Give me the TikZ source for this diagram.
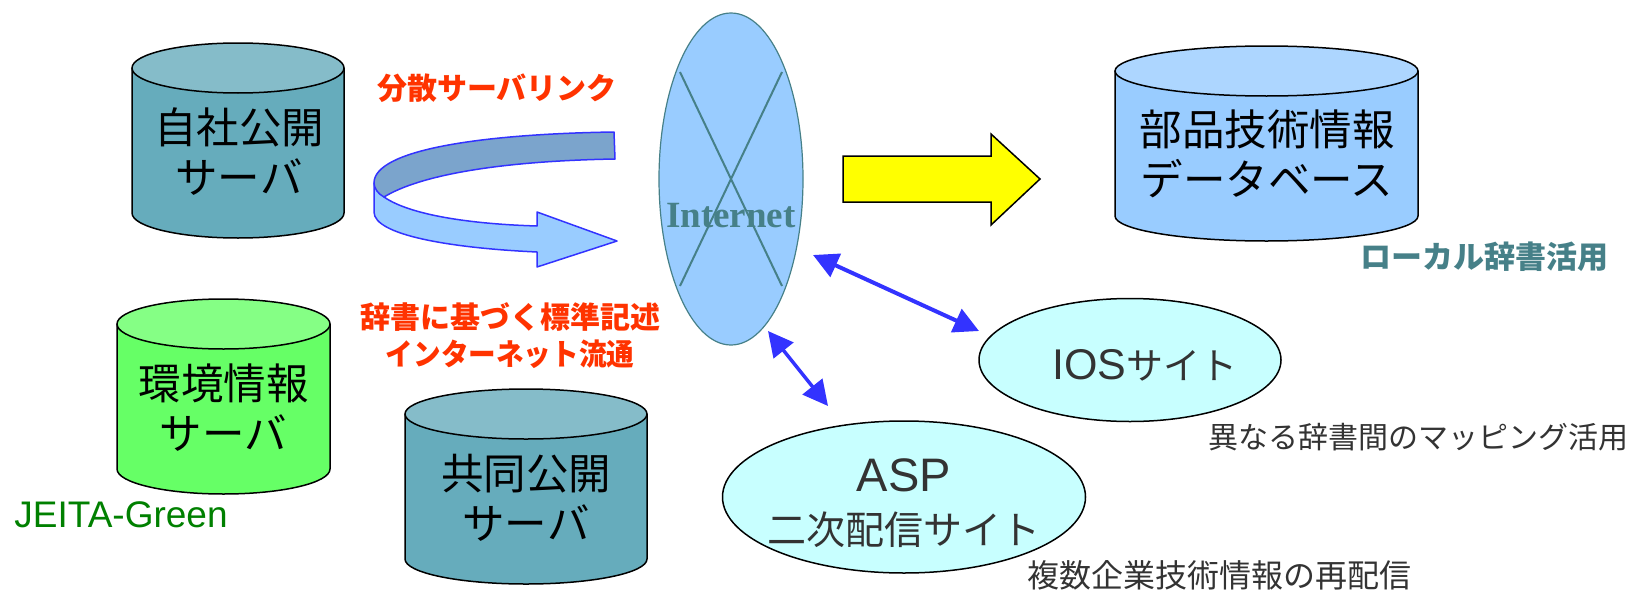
\documentclass[tikz,border=0pt]{standalone}
\usepackage{fontspec}
\usetikzlibrary{arrows.meta}
\usetikzlibrary{shapes.geometric}
\newfontfamily\jpfont{Noto Sans CJK JP}
\newfontfamily\serifbold{Liberation Serif}
\newfontfamily\latinfont{Liberation Sans}
\definecolor{tealsrv}{HTML}{66ACBC}
\definecolor{tealtop}{HTML}{85BCC9}
\definecolor{greensrv}{HTML}{66FF66}
\definecolor{greentop}{HTML}{85FF85}
\definecolor{bluedb}{HTML}{99CCFF}
\definecolor{bluetop}{HTML}{ADD6FF}
\definecolor{bandblue}{HTML}{7BA4CC}
\definecolor{strokeblue}{HTML}{3333FF}
\definecolor{inetteal}{HTML}{468088}
\definecolor{sitecyan}{HTML}{C8FFFF}
\definecolor{redtext}{HTML}{FF3300}
\definecolor{greytext}{HTML}{333333}
\definecolor{arrowyellow}{HTML}{FFFF00}
\definecolor{greentext}{HTML}{008000}
% centre x, top y, half width, body fill, end fill
\newcommand{\srvdrum}[5]{
   \begin{scope}[shift={(#1,#2)}, x=#3pt, y=-25pt, line width=1.5pt, draw=black, line join=round]
      \draw[fill=#4] (-1,1) -- (-1,6.8) .. controls (-1,7.352) and (-.552,7.8) .. (0,7.8)
         .. controls (.552,7.8) and (1,7.352) .. (1,6.8) -- (1,1) -- cycle;
      \draw[fill=#5] (0,1) circle[radius=1];
   \end{scope}
}
\tikzset{
   srvtext/.style={inner sep=0pt, align=center, font=\jpfont\fontsize{42.5}{50}\selectfont},
   sitebox/.style={ellipse, draw=black, line width=1.5pt, fill=sitecyan, inner sep=-40pt,
      outer sep=0pt, align=center, text=greytext,
      font=\jpfont\fontsize{39}{53}\selectfont},
   redlabel/.style={text=redtext, inner sep=0pt, align=center,
      font=\jpfont\bfseries\fontsize{30}{37}\selectfont},
   notelabel/.style={text=greytext, inner sep=0pt,
      font=\jpfont\fontsize{30}{36}\selectfont},
   twoway/.style={strokeblue, {Triangle[length=25pt,width=25pt]}-{Triangle[length=25pt,width=25pt]}},
}
\begin{document}
\begin{tikzpicture}[x=1pt,y=-1pt]
   \useasboundingbox (0,0) rectangle (1630,589);

   % servers
   \srvdrum{238}{43}{106}{tealsrv}{tealtop}
   \node[srvtext] (own) at (239,152) {自社公開\\サーバ};
   \srvdrum{223.5}{299}{106.5}{greensrv}{greentop}
   \node[srvtext] (env) at (223.5,408) {環境情報\\サーバ};
   \srvdrum{526}{389}{121}{tealsrv}{tealtop}
   \node[srvtext] (joint) at (526,497.5) {共同公開\\サーバ};
   \srvdrum{1266.5}{46}{151.5}{bluedb}{bluetop}
   \node[srvtext] (parts) at (1267,154) {部品技術情報\\データベース};

   % internet
   \node[ellipse, draw=inetteal, line width=1.2pt, fill=bluedb, minimum width=144pt,
      minimum height=332pt, inner sep=0pt] (inet) at (731,179) {};
   \node[text=inetteal, inner sep=0pt, font=\serifbold\bfseries\fontsize{37}{40}\selectfont]
      (inetlabel) at (731,216) {Internet};
   \coordinate (xa) at (680,72);
   \coordinate (xb) at (782,286);
   \coordinate (xc) at (782,72);
   \coordinate (xd) at (680,286);
   \draw[inetteal, line width=2pt] (xa) -- (xb);
   \draw[inetteal, line width=2pt] (xc) -- (xd);

   % curved arrow
   \draw[strokeblue, line width=1.5pt, fill=bluedb, line join=round] (374,183) -- (374,212)
      .. controls (374,235) and (450,248) .. (537,252) -- (537,267) -- (617,241)
      -- (537,212) -- (537,226) .. controls (470,224) and (410,215) .. (384,197) -- cycle;
   \draw[strokeblue, line width=1.5pt, fill=bandblue, line join=round] (614,132)
      .. controls (480,134) and (374,150) .. (374,183)
      .. controls (374,188) and (378,194) .. (384,197)
      .. controls (420,175) and (500,161) .. (615,159) -- cycle;

   % yellow arrow
   \draw[black, line width=1.5pt, fill=arrowyellow, line join=miter] (843,156) -- (991,156) -- (991,134)
      -- (1040,179) -- (991,225) -- (991,202) -- (843,202) -- cycle;

   % sites
   \node[sitebox, minimum width=302pt, minimum height=123pt] (ios) at (1130,360)
      {\hspace*{30pt}\raisebox{-5pt}[\height][\depth]{{\latinfont\fontsize{43}{53}\selectfont IOS}\fontsize{37}{53}\selectfont サイト}};
   \node[sitebox, minimum width=363pt, minimum height=152pt] (asp) at (904,497)
      {\rule{0pt}{46pt}{\latinfont\fontsize{47}{53}\selectfont ASP}\\二次配信サイト};

   \coordinate (inetR) at (813,255);
   \coordinate (iosL) at (979,331);
   \coordinate (inetB) at (768,331);
   \coordinate (aspT) at (828,406);
   \draw[twoway, line width=4pt] (inetR) -- (iosL);
   \draw[twoway, line width=3.5pt] (inetB) -- (aspT);

   % labels
   \node[redlabel] (link) at (497,88) {分散サーバリンク};
   \node[redlabel] (std) at (510,336) {辞書に基づく標準記述\\\scalebox{0.92}[1]{インターネット流通}};
   \node[text=inetteal, inner sep=0pt, font=\jpfont\bfseries\fontsize{31}{36}\selectfont]
      (local) at (1484,257) {ローカル辞書活用};
   \node[notelabel] (map) at (1418,437) {異なる辞書間のマッピング活用};
   \node[notelabel, font=\jpfont\fontsize{32}{36}\selectfont] (resend) at (1219,575) {複数企業技術情報の再配信};
   \node[text=greentext, inner sep=0pt, font=\latinfont\fontsize{37}{40}\selectfont]
      (green) at (121,515) {JEITA-Green};
\end{tikzpicture}
\end{document}
